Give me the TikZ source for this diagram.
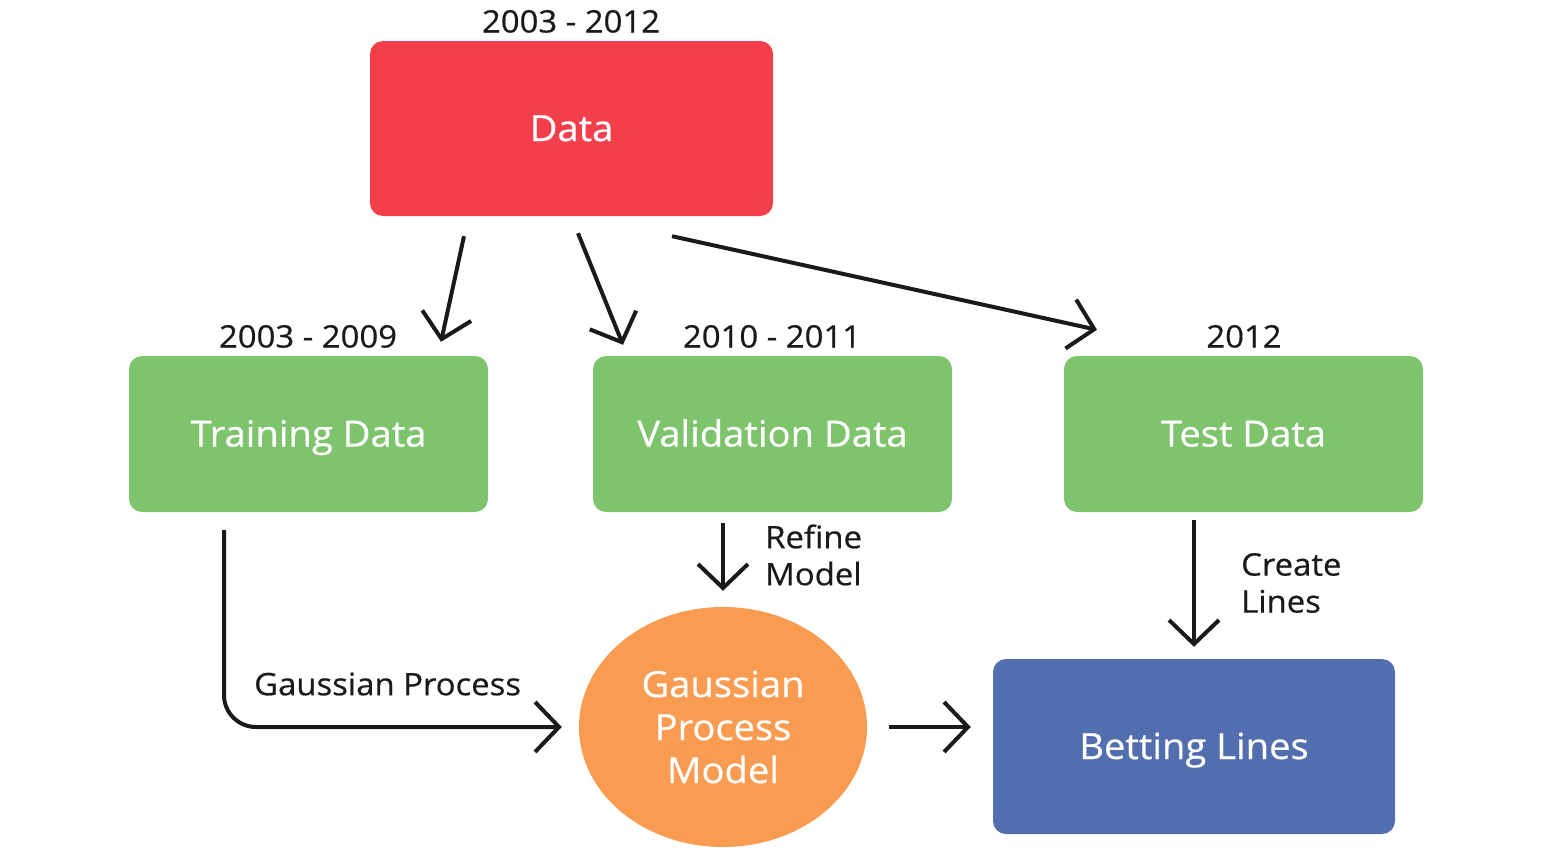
\documentclass[tikz,border=0pt]{standalone}
\usepackage{fontspec}
\setmainfont{Open Sans}[FakeStretch=1.06,FakeBold=0.5]
\usetikzlibrary{arrows.meta,calc,shapes.geometric}
\definecolor{cred}{HTML}{F33E4C}
\definecolor{cgreen}{HTML}{7DC46C}
\definecolor{corange}{HTML}{F99B51}
\definecolor{cblue}{HTML}{526EAE}
\definecolor{ink}{HTML}{1A1A1A}
\begin{document}
\begin{tikzpicture}[x=1pt,y=-1pt,
  box/.style={rectangle,rounded corners=13pt,draw=none,minimum width=359pt,minimum height=156pt,
    text=white,font=\fontsize{36}{43}\selectfont,inner sep=0pt,text height=25pt,text depth=0pt},
  yearlbl/.style={text=ink,font=\fontsize{31}{37}\selectfont,inner sep=0pt,text height=21pt,text depth=0pt},
  sidelbl/.style={text=ink,font=\fontsize{31}{37}\selectfont,inner sep=0pt,align=left,anchor=west},
  arr/.style={draw=ink,line width=4pt,-{Straight Barb[length=24pt,width=50pt]}}]
\useasboundingbox (0,0) rectangle (1548,854);
% nodes
\node[box,fill=cred,minimum width=403pt,minimum height=175pt] (data) at (571.5,128.5) {Data};
\node[yearlbl] (ydata) at (571,22) {2003 - 2012};
\node[box,fill=cgreen] (train) at (308.5,434) {Training Data};
\node[yearlbl] (ytrain) at (308,337) {2003 - 2009};
\node[box,fill=cgreen] (val) at (772.5,434) {Validation Data};
\node[yearlbl] (yval) at (772,337) {2010 - 2011};
\node[box,fill=cgreen] (test) at (1243.5,434) {Test Data};
\node[yearlbl] (ytest) at (1244,337) {2012};
\node[ellipse,fill=corange,minimum width=288pt,minimum height=240pt,inner sep=0pt,
  text=white,align=center,font=\fontsize{36}{43}\selectfont] (gpm) at (723,727) {Gaussian\\Process\\Model};
\node[box,fill=cblue,minimum width=402pt,minimum height=175pt] (bet) at (1194,746.5) {Betting Lines};
% side labels
\node[sidelbl] (lrefine) at (765,555) {Refine\\Model};
\node[sidelbl] (lcreate) at (1241,583) {Create\\Lines};
\node[sidelbl] (lgp) at (254,684) {Gaussian Process};
% connectors
\draw[arr] ($(data.south)+(-107.5,20)$) -- ($(train.north)+(132.5,-14)$);
\draw[arr] ($(data.south)+(6.5,17)$) -- ($(val.north)+(-149.5,-11)$);
\draw[arr] ($(data.south)+(100.5,20)$) -- ($(test.north)+(-146.5,-26)$);
\draw[arr] ($(val.south)+(-49.5,11)$) -- ($(gpm.north)+(0,-16)$);
\draw[arr] ($(test.south)+(-49.5,8)$) -- ($(bet.north)+(0,-12)$);
\draw[arr,rounded corners=32pt] ($(train.south)+(-84.5,18)$) |- ($(gpm.west)+(-17,0)$);
\draw[arr] ($(gpm.east)+(22,0)$) -- ($(bet.west)+(-22,-19.5)$);
\end{tikzpicture}
\end{document}
